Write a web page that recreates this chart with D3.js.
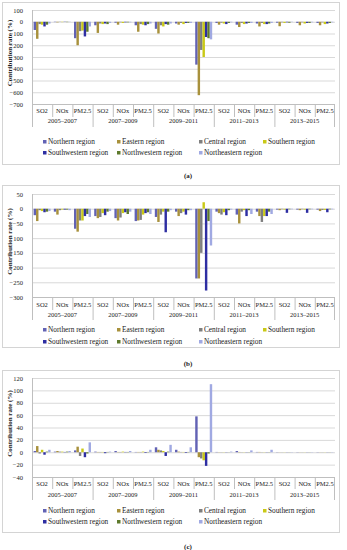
<!DOCTYPE html>
<html>
<head>
<meta charset="utf-8">
<script src="https://cdn.jsdelivr.net/npm/d3@7/dist/d3.min.js"></script>
<style>
  body { margin: 0; background: #fff; }
  svg text { font-family: "Liberation Serif", "Times New Roman", serif; fill: #222; }
</style>
</head>
<body>
<div id="chart"></div>
<script>
/* DATA */
const periods = ["2005–2007", "2007–2009", "2009–2011", "2011–2013", "2013–2015"];
const pollutants = ["SO2", "NOx", "PM2.5"];
const regions = ["Northern region", "Eastern region", "Central region", "Southern region",
                 "Southwestern region", "Northwestern region", "Northeastern region"];

// one row per period/pollutant, values in the order of regions
const rateA = [
  [-70, -145, -20, -25, -40, -25, -15],
  [-3, -5, -2, -3, -2, -3, -2],
  [-140, -200, -80, -75, -125, -85, -40],
  [-30, -95, -15, -20, -15, -20, -10],
  [-8, -25, -5, -10, -5, -5, -5],
  [-30, -85, -20, -25, -30, -20, -15],
  [-60, -100, -30, -40, -20, -25, -15],
  [-15, -25, -10, -20, -10, -10, -10],
  [-365, -625, -240, -300, -130, -140, -150],
  [-10, -25, -8, -15, -20, -10, -5],
  [-25, -45, -10, -20, -15, -10, -10],
  [-15, -40, -10, -20, -20, -15, -10],
  [-8, -38, -5, -10, -5, -8, -3],
  [-10, -30, -5, -15, -10, -10, -5],
  [-10, -30, -5, -20, -15, -10, -5]
];
const rateB = [
  [-22, -42, -5, -8, -12, -10, -8],
  [-10, -20, -5, -3, -3, -3, -5],
  [-68, -78, -40, -40, -25, -18, -28],
  [-25, -32, -28, -15, -22, -10, -8],
  [-32, -40, -30, -15, -12, -18, -10],
  [-42, -40, -38, -20, -15, -12, -18],
  [-28, -45, -20, -10, -80, -10, -5],
  [-10, -25, -15, -10, -20, -5, -5],
  [-237, -237, -150, 22, -278, -42, -125],
  [-10, -15, -20, -12, -22, -5, -3],
  [-20, -50, -10, -5, -25, -5, -18],
  [-10, -25, -45, -25, -25, -10, -18],
  [-3, -5, -2, -3, -14, -2, -2],
  [-3, -5, -2, -3, -14, -2, -2],
  [-3, -8, -4, -4, -12, -2, -2]
];
const rateC = [
  [2, 10, -2, 4, -4, 1, 4],
  [1, 2, 1, 1, 0.5, 1, 2],
  [3, 9, -6, 6, -8, -2, 16],
  [1, 0.5, 0.5, 0.5, -1.5, 0.5, 1],
  [2, 0.5, 0.5, 1, 0.5, 0.5, 2],
  [0.5, 0.5, 0.5, 1, -1, 0.5, 4],
  [8, 4, 3, 2, -6, 1, 12],
  [4, 1, 0.5, 0.5, -1, 0.5, 8],
  [58, -8, -10, -13, -22, -2, 110],
  [0.5, 0.3, 0.3, 0.3, 0.3, 0.2, 1],
  [2, 0.5, 0.3, 0.3, 0.3, 0.3, 3],
  [0.5, 0.5, 0.3, 0.3, 0.3, 0.3, 4],
  [0.3, 0.2, 0.2, 0.2, 0.2, 0.2, 0.4],
  [0.3, 0.2, 0.2, 0.2, 0.2, 0.2, 0.4],
  [0.3, 0.2, 0.2, 0.2, 0.2, 0.2, 0.4]
];
const ticksA = [100, 0, -100, -200, -300, -400, -500, -600, -700];
const ticksB = [50, 0, -50, -100, -150, -200, -250, -300];
const ticksC = [120, 100, 80, 60, 40, 20, 0, -20, -40];

/* CONFIGURATION */
const width = 347, height = 550;
const colors = ["#6262b4", "#a8913c", "#7f7f7f", "#c9c916", "#2e2ea2", "#5e7a2c", "#a0a9e2"];
const plotLeft = 32, plotRight = 335;
const legendX = [43, 117, 199, 263];

const panels = [
  { label: "(a)", values: rateA, ticks: ticksA, frame: [2, 164], plot: [10, 104], cat: 112, grp: 122, sep: [117, 127], legend: [142, 153], labelY: 176 },
  { label: "(b)", values: rateB, ticks: ticksB, frame: [185, 347], plot: [194, 297], cat: 306, grp: 316, sep: [310, 320], legend: [330, 342], labelY: 364 },
  { label: "(c)", values: rateC, ticks: ticksC, frame: [370, 532], plot: [378, 477], cat: 485, grp: 496, sep: [489, 500], legend: [511, 522], labelY: 547 }
];

const svg = d3.select("#chart").append("svg")
  .attr("width", width)
  .attr("height", height);

// categories: every pollutant inside every period
const categories = [];
periods.forEach(p => pollutants.forEach(q => categories.push(p + "|" + q)));

const x0 = d3.scaleBand()
  .domain(categories)
  .range([plotLeft, plotRight]);

const x1 = d3.scaleBand()
  .domain(regions)
  .range([x0.bandwidth() * 0.08, x0.bandwidth() * 0.92]);

panels.forEach(drawPanel);

function drawPanel(pn) {
  const g = svg.append("g");
  const ticks = pn.ticks;

  // chart area frame
  g.append("rect")
    .attr("x", 2.5).attr("y", pn.frame[0] + 0.5)
    .attr("width", 337).attr("height", pn.frame[1] - pn.frame[0])
    .attr("fill", "#fff")
    .attr("stroke", "#d4d4d4");

  const y = d3.scaleLinear()
    .domain([d3.min(ticks), d3.max(ticks)])
    .range([pn.plot[1], pn.plot[0]]);

  // gridlines
  g.append("g")
    .attr("transform", `translate(${plotLeft},0)`)
    .call(d3.axisLeft(y).tickValues(ticks).tickSize(-(plotRight - plotLeft)).tickFormat(""))
    .call(a => a.select(".domain").remove())
    .call(a => a.selectAll("line").attr("stroke", "#d9d9d9").attr("stroke-width", 1));

  // y tick labels
  g.append("g")
    .attr("transform", `translate(${plotLeft - 9},0)`)
    .call(d3.axisLeft(y).tickValues(ticks).tickSize(0).tickPadding(0))
    .call(a => a.select(".domain").remove())
    .call(a => a.selectAll("text")
      .style("font-family", "Liberation Serif")
      .style("font-size", "6.5px")
      .attr("fill", "#333"));

  // y axis line and bottom axis line
  g.append("line")
    .attr("x1", plotLeft + 0.5).attr("x2", plotLeft + 0.5)
    .attr("y1", pn.plot[0]).attr("y2", pn.sep[1])
    .attr("stroke", "#bfbfbf");
  g.append("line")
    .attr("x1", plotLeft).attr("x2", plotRight)
    .attr("y1", pn.plot[1] + 0.5).attr("y2", pn.plot[1] + 0.5)
    .attr("stroke", "#bfbfbf");

  // bars
  pn.values.forEach((row, i) => {
    row.forEach((v, j) => {
      g.append("rect")
        .attr("x", x0(categories[i]) + x1(regions[j]))
        .attr("y", y(Math.max(0, v)))
        .attr("width", x1.bandwidth())
        .attr("height", Math.abs(y(v) - y(0)))
        .attr("fill", colors[j]);
    });
  });

  // category separators
  categories.forEach((c, i) => {
    const xs = x0(c);
    if (i === 0) return;
    const isGroup = i % pollutants.length === 0;
    g.append("line")
      .attr("x1", xs + 0.5).attr("x2", xs + 0.5)
      .attr("y1", pn.plot[1]).attr("y2", isGroup ? pn.sep[1] : pn.sep[0])
      .attr("stroke", "#bfbfbf");
  });
  g.append("line")
    .attr("x1", plotRight - 0.5).attr("x2", plotRight - 0.5)
    .attr("y1", pn.plot[1]).attr("y2", pn.sep[1])
    .attr("stroke", "#bfbfbf");

  // pollutant labels
  g.selectAll(".cat")
    .data(categories)
    .enter()
    .append("text")
    .attr("x", d => x0(d) + x0.bandwidth() / 2)
    .attr("y", pn.cat)
    .attr("text-anchor", "middle")
    .attr("dominant-baseline", "middle")
    .style("font-size", "6.5px")
    .text(d => d.split("|")[1]);

  // period labels
  g.selectAll(".grp")
    .data(periods)
    .enter()
    .append("text")
    .attr("x", (d, k) => x0(categories[k * 3]) + x0.bandwidth() * 1.5)
    .attr("y", pn.grp)
    .attr("text-anchor", "middle")
    .attr("dominant-baseline", "middle")
    .style("font-size", "6.5px")
    .text(d => d);

  // y axis title
  g.append("text")
    .attr("transform", `translate(10,${(pn.plot[0] + pn.plot[1]) / 2 - 4}) rotate(-90)`)
    .attr("text-anchor", "middle")
    .attr("dominant-baseline", "middle")
    .style("font-size", "7px")
    .style("font-weight", "bold")
    .attr("fill", "#000")
    .text("Contribution rate (%)");

  // legend
  regions.forEach((r, j) => {
    const col = j < 4 ? j : j - 4;
    const ly = j < 4 ? pn.legend[0] : pn.legend[1];
    g.append("rect")
      .attr("x", legendX[col]).attr("y", ly - 2)
      .attr("width", 3.5).attr("height", 3.5)
      .attr("fill", colors[j]);
    g.append("text")
      .attr("x", legendX[col] + 5)
      .attr("y", ly)
      .attr("dominant-baseline", "middle")
      .style("font-size", "7.3px")
      .text(r);
  });

  // panel label
  svg.append("text")
    .attr("x", 188)
    .attr("y", pn.labelY)
    .attr("text-anchor", "middle")
    .attr("dominant-baseline", "middle")
    .style("font-size", "7px")
    .style("font-weight", "bold")
    .text(pn.label);
}
</script>
</body>
</html>
